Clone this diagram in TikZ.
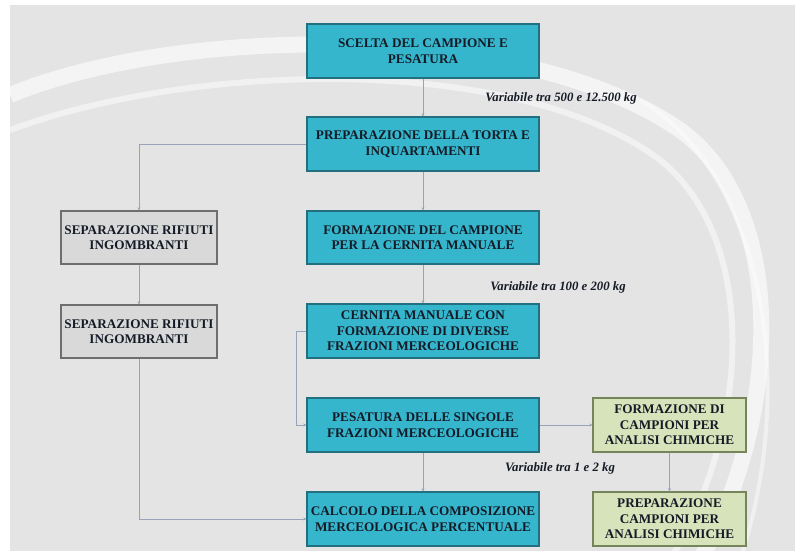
\documentclass[tikz,border=0pt]{standalone}
\usepackage{fontspec}
\setmainfont{Liberation Serif}
\usetikzlibrary{arrows.meta}
\definecolor{bgcol}{HTML}{E4E4E4}
\definecolor{cyanfill}{HTML}{35B6CD}
\definecolor{cyanline}{HTML}{22707F}
\definecolor{greyfill}{HTML}{D9D9D9}
\definecolor{greyline}{HTML}{6E6E6E}
\definecolor{greenfill}{HTML}{D7E3BB}
\definecolor{greenline}{HTML}{75845A}
\definecolor{conn}{HTML}{97A3B6}
\definecolor{txt}{HTML}{151B26}
\begin{document}
\begin{tikzpicture}[x=1pt,y=-1pt,
  boxbase/.style={draw, line width=1.3pt, text=txt, align=center, inner sep=1pt,
    font=\bfseries\fontsize{13.2}{15.5}\selectfont},
  cyanbox/.style={boxbase, fill=cyanfill, draw=cyanline, minimum width=232pt, minimum height=54pt},
  greybox/.style={boxbase, fill=greyfill, draw=greyline, minimum width=156pt, minimum height=53pt},
  greenbox/.style={boxbase, fill=greenfill, draw=greenline, minimum width=153pt, minimum height=54pt},
  conline/.style={draw=conn, line width=0.8pt, -{Stealth[length=3pt,width=3pt]}},
  qty/.style={font=\bfseries\itshape\fontsize{12.8}{14}\selectfont, text=txt}
]
\useasboundingbox (0,0) rectangle (795,554);
\fill[white] (0,0) rectangle (795,554);
\fill[bgcol] (10,5) rectangle (795,551);
% background swirl
\begin{scope}
\clip (10,5) rectangle (795,551);
\draw[white, line width=16pt, opacity=0.6] (10,95) .. controls (180,25) and (520,20) .. (680,130) .. controls (790,210) and (780,420) .. (700,560);
\draw[white, line width=6pt, opacity=0.5] (10,130) .. controls (200,60) and (520,55) .. (660,160) .. controls (760,240) and (750,430) .. (670,560);
\draw[white, line width=4pt, opacity=0.45] (640,100) .. controls (760,170) and (800,380) .. (740,560);
\end{scope}

\node[cyanbox] (b1) at (423,51) {SCELTA DEL CAMPIONE E\\PESATURA};
\node[cyanbox] (b2) at (423,144) {PREPARAZIONE DELLA TORTA E\\INQUARTAMENTI};
\node[cyanbox, minimum height=53pt] (b3) at (423,237.5) {FORMAZIONE DEL CAMPIONE\\PER LA CERNITA MANUALE};
\node[cyanbox] (b4) at (423,331) {CERNITA MANUALE CON\\FORMAZIONE DI DIVERSE\\FRAZIONI MERCEOLOGICHE};
\node[cyanbox] (b5) at (423,425) {PESATURA DELLE SINGOLE\\FRAZIONI MERCEOLOGICHE};
\node[cyanbox] (b6) at (423,519) {CALCOLO DELLA COMPOSIZIONE\\MERCEOLOGICA PERCENTUALE};
\node[greybox] (g1) at (139,237.5) {SEPARAZIONE RIFIUTI\\INGOMBRANTI};
\node[greybox] (g2) at (139,331.5) {SEPARAZIONE RIFIUTI\\INGOMBRANTI};
\node[greenbox] (v1) at (669.5,425) {FORMAZIONE DI\\CAMPIONI PER\\ANALISI CHIMICHE};
\node[greenbox] (v2) at (669.5,519) {PREPARAZIONE\\CAMPIONI PER\\ANALISI CHIMICHE};

\node[qty] (q1) at (561,98) {Variabile tra 500 e 12.500 kg};
\node[qty] (q2) at (558,287) {Variabile tra 100 e 200 kg};
\node[qty] (q3) at (560,468) {Variabile tra 1 e 2 kg};

\coordinate (k) at (296,331);
\draw[conline] (b1) -- (b2);
\draw[conline] (b2) -- (b3);
\draw[conline] (b3) -- (b4);
\draw[conline] (b5) -- (b6);
\draw[conline] (b2.west) -| (g1.north);
\draw[conline] (g1) -- (g2);
\draw[conline] (g2.south) |- (b6.west);
\draw[conline] (b4.west) -- (k) |- (b5.west);
\draw[conline] (b5) -- (v1);
\draw[conline] (v1) -- (v2);
\end{tikzpicture}
\end{document}
